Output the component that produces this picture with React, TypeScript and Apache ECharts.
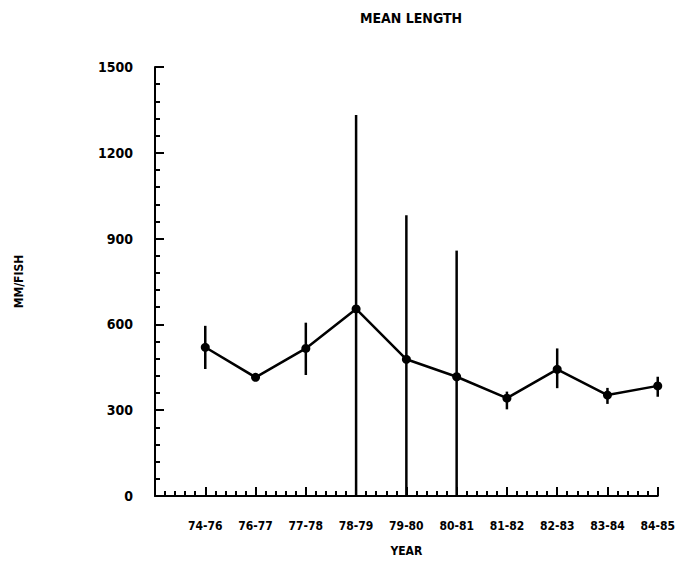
import React, { useEffect, useRef } from "react";
import * as echarts from "echarts";

const categories = ["74-76", "76-77", "77-78", "78-79", "79-80", "80-81", "81-82", "82-83", "83-84", "84-85"];
const means = [520, 415, 516, 654, 478, 417, 342, 443, 353, 385];
const lows = [444, 405, 423, 0, 0, 0, 303, 377, 322, 347];
const highs = [595, 425, 606, 1332, 982, 858, 365, 516, 378, 417];
const yTicks = [0, 300, 600, 900, 1200, 1500];

const FONT = "'DejaVu Sans Condensed', 'Liberation Sans Narrow', 'DejaVu Sans', sans-serif";

export default function App() {
  const ref = useRef<HTMLDivElement>(null);
  useEffect(() => {
    const chart = echarts.init(ref.current!, null, { renderer: "svg" });
    const lineData = means.map((m, i) => [i, m]);
    const errData = means.map((_, i) => [i, lows[i], highs[i]]);
    chart.setOption({
      animation: false,
      backgroundColor: "#fff",
      title: {
        text: "MEAN LENGTH",
        left: 406,
        top: 6,
        textAlign: "center",
        textStyle: { fontFamily: FONT, fontWeight: "bold", fontSize: 14, color: "#000" },
      },
      grid: { left: 155, right: 16, top: 67, bottom: 90 },
      xAxis: {
        type: "value",
        min: -1,
        max: 9,
        interval: 1,
        name: "YEAR",
        nameLocation: "middle",
        nameGap: 49,
        nameTextStyle: { fontFamily: FONT, fontWeight: "bold", fontSize: 12, color: "#000" },
        axisLine: { onZero: false, lineStyle: { color: "#000", width: 2 } },
        axisTick: { inside: true, length: 9, lineStyle: { color: "#000", width: 2 } },
        minorTick: { show: true, splitNumber: 5, length: 5, lineStyle: { color: "#000", width: 2 } },
        splitLine: { show: false },
        axisLabel: {
          margin: 24,
          fontFamily: FONT,
          fontWeight: "bold",
          fontSize: 12,
          color: "#000",
          formatter: (v: number) => categories[Math.round(v)] ?? "",
        },
      },
      yAxis: {
        type: "value",
        min: 0,
        max: 1500,
        interval: 300,
        name: "MM/FISH",
        nameLocation: "middle",
        nameGap: 130,
        nameTextStyle: { fontFamily: FONT, fontWeight: "bold", fontSize: 12, color: "#000" },
        axisLine: { show: true, onZero: false, lineStyle: { color: "#000", width: 2 } },
        axisTick: { show: true, inside: true, length: 9, lineStyle: { color: "#000", width: 2 } },
        minorTick: { show: true, splitNumber: 5, length: 5, lineStyle: { color: "#000", width: 2 } },
        splitLine: { show: false },
        axisLabel: {
          margin: 22,
          fontFamily: FONT,
          fontWeight: "bold",
          fontSize: 14,
          color: "#000",
          formatter: (v: number) => (yTicks.includes(v) ? String(v) : ""),
        },
      },
      series: [
        {
          type: "custom",
          data: errData,
          renderItem: (params: any, api: any) => {
            const x = api.value(0);
            const p1 = api.coord([x, api.value(1)]);
            const p2 = api.coord([x, api.value(2)]);
            return {
              type: "line",
              shape: { x1: p1[0], y1: p1[1], x2: p2[0], y2: p2[1] },
              style: { stroke: "#000", lineWidth: 2.5 },
            };
          },
          z: 1,
        },
        {
          type: "line",
          data: lineData,
          symbol: "circle",
          symbolSize: 9,
          itemStyle: { color: "#000" },
          lineStyle: { color: "#000", width: 2.5 },
          z: 2,
        },
      ],
    });
    return () => chart.dispose();
  }, []);
  return <div ref={ref} style={{ position: "fixed", left: 0, top: 0, width: 678, height: 586 }} />;
}
